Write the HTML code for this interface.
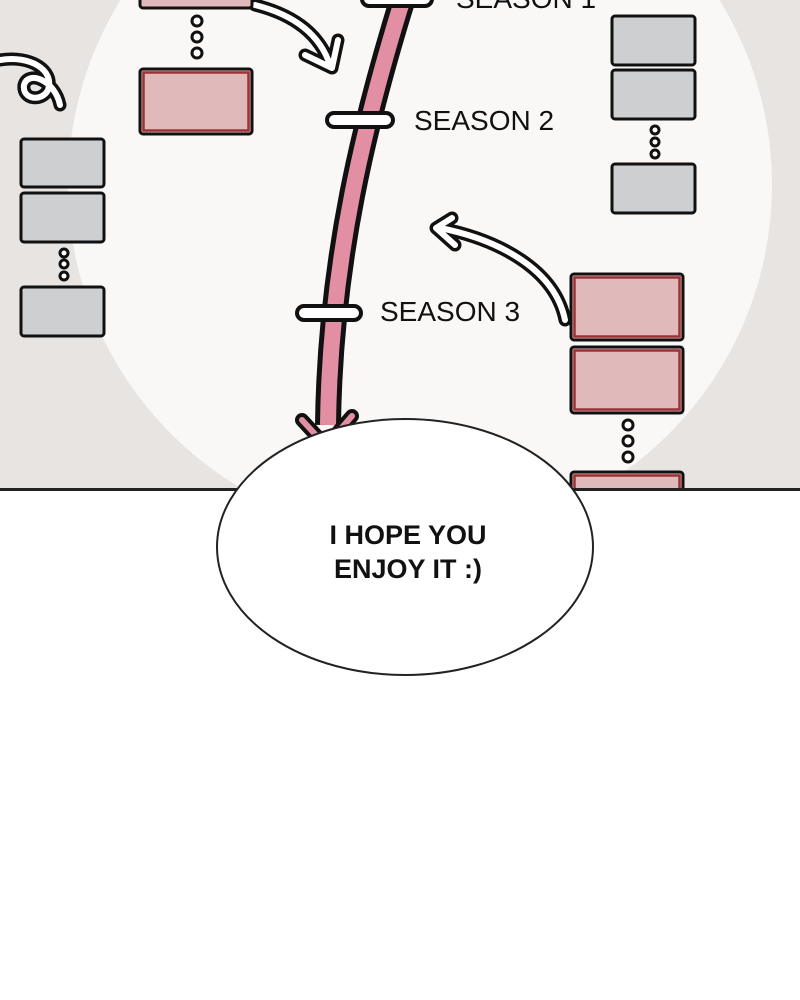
<!DOCTYPE html>
<html><head><style>body{margin:0;background:#fff}svg{display:block}</style></head><body>
<svg width="800" height="1000" viewBox="0 0 800 1000" xmlns="http://www.w3.org/2000/svg" font-family="Liberation Sans, sans-serif">
<defs><clipPath id="top"><rect x="0" y="0" width="800" height="490"/></clipPath></defs>
<rect width="800" height="1000" fill="#fff"/>
<g clip-path="url(#top)">
<rect width="800" height="490" fill="#e8e4e2"/>
<circle cx="420" cy="185" r="352" fill="#f9f8f7"/>
<g fill="none" stroke-linecap="round" stroke-linejoin="round">
<path d="M0 60 C30 55 55 70 48 90 C42 102 22 100 24 85 C28 70 55 80 60 105" stroke="#111" stroke-width="13"/>
<path d="M0 60 C30 55 55 70 48 90 C42 102 22 100 24 85 C28 70 55 80 60 105" stroke="#fff" stroke-width="6"/>
<path d="M255 5 C295 15 320 35 330 65 M305 55 L332 68 L338 40" stroke="#111" stroke-width="13"/>
<path d="M255 5 C295 15 320 35 330 65 M305 55 L332 68 L338 40" stroke="#fff" stroke-width="6"/>
<path d="M565 320 C555 270 500 240 440 228 M452 218 L436 228 L455 245" stroke="#111" stroke-width="13"/>
<path d="M565 320 C555 270 500 240 440 228 M452 218 L436 228 L455 245" stroke="#fff" stroke-width="6"/>
</g>
<path d="M404 -5 C365 120 330 260 328 425" fill="none" stroke="#111" stroke-width="26"/>
<path d="M404 -5 C365 120 330 260 328 425" fill="none" stroke="#e38fa3" stroke-width="16"/>
<path d="M302 420 L326 446 L352 416" fill="none" stroke="#111" stroke-width="14" stroke-linecap="round" stroke-linejoin="round"/>
<path d="M302 420 L326 446 L352 416" fill="none" stroke="#e38fa3" stroke-width="6" stroke-linecap="round" stroke-linejoin="round"/>
<g fill="#fff" stroke="#111" stroke-width="4">
<rect x="362" y="-8" width="70" height="14" rx="7"/>
<rect x="327" y="113" width="66" height="14" rx="7"/>
<rect x="297" y="306" width="64" height="14" rx="7"/>
</g>
<g font-size="28" fill="#111">
<text x="456" y="8">SEASON 1</text>
<text x="414" y="130">SEASON 2</text>
<text x="380" y="321">SEASON 3</text>
</g>
<g fill="#e0b9ba" stroke="#111" stroke-width="3">
<rect x="140" y="-20" width="112" height="28" rx="3"/>
<rect x="140" y="69" width="112" height="65" rx="3"/>
<rect x="571" y="274" width="112" height="66" rx="3"/>
<rect x="571" y="347" width="112" height="66" rx="3"/>
<rect x="571" y="472" width="112" height="40" rx="3"/>
</g>
<g fill="none" stroke="#9c3236" stroke-width="2.5">
<rect x="143.5" y="72.5" width="105" height="58"/>
<rect x="574.5" y="277.5" width="105" height="59"/>
<rect x="574.5" y="350.5" width="105" height="59"/>
<rect x="574.5" y="475.5" width="105" height="40"/>
</g>
<g fill="#cdcfd1" stroke="#111" stroke-width="3">
<rect x="21" y="139" width="83" height="48" rx="3"/>
<rect x="21" y="193" width="83" height="49" rx="3"/>
<rect x="21" y="287" width="83" height="49" rx="3"/>
<rect x="612" y="16" width="83" height="49" rx="3"/>
<rect x="612" y="70" width="83" height="49" rx="3"/>
<rect x="612" y="164" width="83" height="49" rx="3"/>
</g>
<g fill="#fff" stroke="#111" stroke-width="3">
<circle cx="197" cy="21" r="5"/><circle cx="197" cy="37" r="5"/><circle cx="197" cy="53" r="5"/>
<circle cx="64" cy="253" r="4"/><circle cx="64" cy="264" r="4"/><circle cx="64" cy="276" r="4"/>
<circle cx="655" cy="130" r="4"/><circle cx="655" cy="142" r="4"/><circle cx="655" cy="154" r="4"/>
<circle cx="628" cy="425" r="5"/><circle cx="628" cy="441" r="5"/><circle cx="628" cy="457" r="5"/>
</g>
</g>
<rect x="0" y="488" width="800" height="3" fill="#222"/>
<ellipse cx="405" cy="547" rx="188" ry="128" fill="#fff" stroke="#222" stroke-width="2"/>
<g font-size="27" fill="#111" text-anchor="middle" font-weight="bold">
<text x="408" y="544">I HOPE YOU</text>
<text x="408" y="578">ENJOY IT :)</text>
</g>
</svg>
</body></html>
